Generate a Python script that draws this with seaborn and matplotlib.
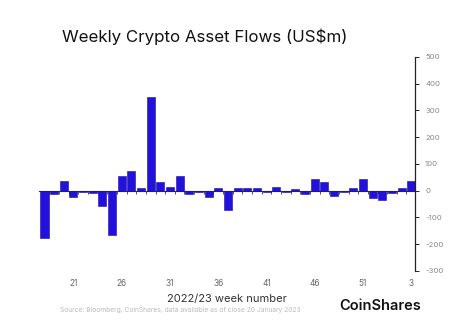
import matplotlib
matplotlib.use("Agg")
import matplotlib.pyplot as plt
import seaborn as sns
import pandas as pd
import numpy as np

# Week numbers (2022 wk 18 -> 2023 wk 3) and weekly net flows, US$m
weeks = list(range(18, 54)) + [1, 2, 3]
flows = [-178, -11, 36, -24, -3, -9, -56, -167, 55, 75,
         12, 350, 32, 15, 55, -11, -6, -25, 11, -71,
         10, 10, 10, -3, 14, -3, 6, -12, 44, 33,
         -21, -6, 10, 45, -26, -36, -9, 10, 38]
label_weeks = [21, 26, 31, 36, 41, 46, 51, 3]
y_ticks = [-300, -200, -100, 0, 100, 200, 300, 400, 500]

df = pd.DataFrame({"week": [str(w) for w in weeks], "flow": flows})

sns.set_theme(style="white")
plt.rcParams["font.family"] = ["Inter", "DejaVu Sans"]

fig = plt.figure(figsize=(4.72, 3.30), dpi=100)
ax = fig.add_axes([0.082, 0.1788, 0.798, 0.6485])

sns.barplot(data=df, x="week", y="flow", color="#2211dd", saturation=1,
            width=0.83, edgecolor="#1a0c9a", linewidth=0.4, ax=ax)

ax.set_xlim(-0.6, len(weeks) - 1 + 0.42)
ax.set_ylim(-300, 500)

# y axis on the right
for side in ["left", "top", "bottom"]:
    ax.spines[side].set_visible(False)
ax.spines["right"].set_color("#222222")
ax.spines["right"].set_linewidth(0.9)
ax.yaxis.tick_right()
ax.set_yticks(y_ticks)
ax.set_yticklabels([str(v) for v in y_ticks])
ax.tick_params(axis="y", direction="out", length=3, width=0.7,
               color="#222222", labelsize=5.6, labelcolor="#888888", pad=4)

# week labels along the bottom
pos = [weeks.index(w) for w in label_weeks]
ax.set_xticks(pos)
ax.set_xticklabels([str(w) for w in label_weeks])
ax.tick_params(axis="x", length=0, labelsize=6, labelcolor="#666666", pad=6)
ax.set_xlabel("2022/23 week number", fontsize=8, color="#333333", labelpad=4)
ax.set_ylabel("")

# zero line with small ticks between weeks
zero = ax.secondary_xaxis(0, transform=ax.transData)
zero.spines["bottom"].set_color("#333333")
zero.spines["bottom"].set_linewidth(0.8)
zero.set_xticks(np.arange(len(weeks)) + 0.5)
zero.set_xticklabels([])
zero.tick_params(axis="x", direction="out", length=2.5, width=0.6, color="#333333")

fig.text(0.131, 0.888, "Weekly Crypto Asset Flows (US$m)", fontsize=12.2,
         color="#111111", va="center", ha="left")
fig.text(0.127, 0.060, "Source: Bloomberg, CoinShares, data available as of close 20 January 2023",
         fontsize=4.8, color="#bbbbbb", va="center", ha="left")
fig.text(0.718, 0.073, "CoinShares", fontsize=10.5, fontweight="semibold",
         color="#111111", va="center", ha="left")

fig.savefig("out.png", dpi=100, facecolor="white")
